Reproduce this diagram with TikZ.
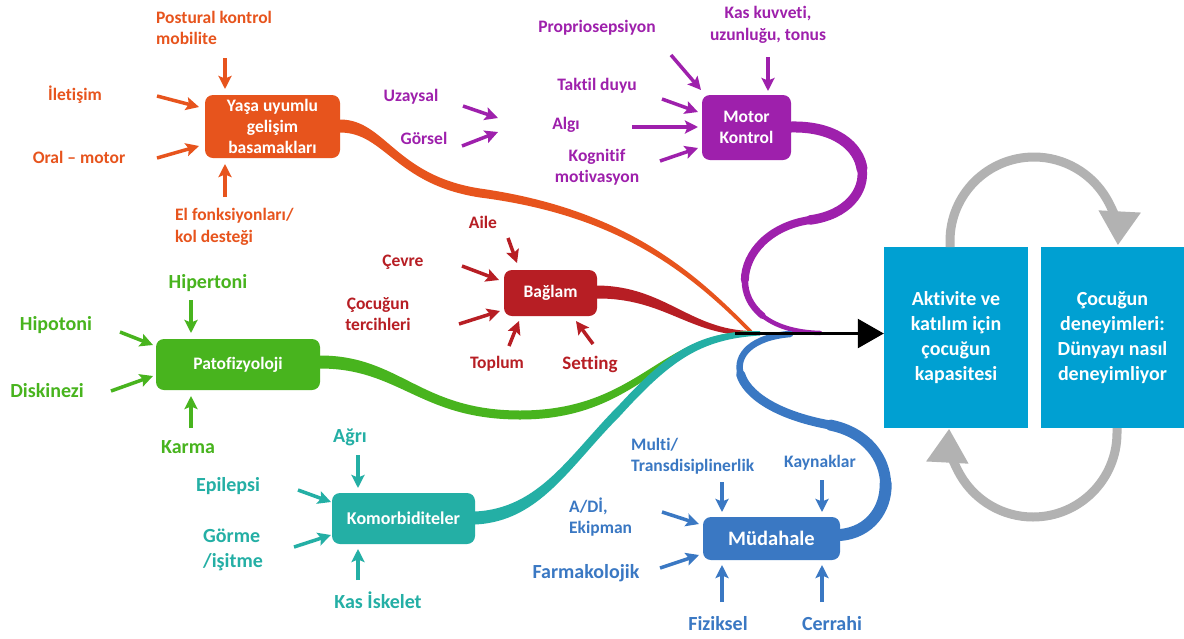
\documentclass[tikz,border=0pt]{standalone}
\usepackage{fontspec}
\setmainfont{Carlito}[Ligatures={NoCommon}]
\usetikzlibrary{arrows.meta,calc}
\definecolor{orC}{RGB}{231,84,29}
\definecolor{puC}{RGB}{158,32,172}
\definecolor{reC}{RGB}{183,30,36}
\definecolor{grC}{RGB}{72,180,30}
\definecolor{teC}{RGB}{36,175,165}
\definecolor{blC}{RGB}{58,120,195}
\definecolor{cyC}{RGB}{0,160,210}
\definecolor{gyC}{RGB}{178,178,178}
\begin{document}
\begin{tikzpicture}[x=1pt,y=-1pt,
  lab/.style={font=\bfseries\fontsize{17.5}{21.5}\selectfont, align=center, inner sep=0pt},
  labL/.style={font=\bfseries\fontsize{20}{25}\selectfont, align=center, inner sep=0pt},
  bx/.style={rounded corners=8pt, inner sep=0pt, text=white, align=center, font=\bfseries\fontsize{17.5}{21}\selectfont},
  bigbox/.style={inner sep=0pt, fill=cyC, text=white, align=center, minimum width=144pt, minimum height=181pt, font=\bfseries\fontsize{20}{25}\selectfont},
  fat/.style={line width=3.5pt, -{Stealth[length=13pt,width=13pt,inset=2.5pt]}},
  seg/.style={line cap=round},
  gyarrow/.style={gyC, line width=9pt, -{Triangle[length=34pt,width=40pt]}}
  ]
\fill[white] (0,0) rectangle (1184,638);
\useasboundingbox (0,0) rectangle (1184,638);

% ---------------- ribbons ----------------
% orange
\fill[orC] (340,119.5) .. controls (385,119.5) and (395,175.5) .. (480,188.5) .. controls (620,208.5) and (690,267) .. (752,330.5)
  -- (752,335.5) .. controls (690,273) and (620,215.5) .. (480,197.5) .. controls (395,184.5) and (385,132.5) .. (340,132.5) -- cycle;
% red
\fill[reC] (597,285.5) .. controls (665,286) and (690,330) .. (752,331)
  -- (752,335.5) .. controls (690,336) and (665,298) .. (597,298.5) -- cycle;
% green
\fill[grC] (320,355.5) .. controls (400,355.5) and (420,410.5) .. (520,410.5) .. controls (640,410.5) and (660,331) .. (755,331)
  -- (755,335.5) .. controls (660,339) and (640,419.5) .. (520,419.5) .. controls (420,419.5) and (400,368.5) .. (320,368.5) -- cycle;
% teal
\fill[teC] (475,511.5) .. controls (540,508.5) and (570,454) .. (620,404) .. controls (670,350) and (700,331) .. (760,331)
  -- (760,335.5) .. controls (700,339) and (670,361) .. (620,416) .. controls (570,466) and (540,521.5) .. (475,524.5) -- cycle;
% purple
\draw[puC, seg, line width=11pt] (791,127) .. controls (835.5,126) and (859,146.75) .. (862,169);
\draw[puC, seg, line width=9.5pt] (862,169) .. controls (865,191.25) and (847.5,215) .. (810,220);
\draw[puC, seg, line width=8pt] (810,220) .. controls (769,226) and (745.25,253.5) .. (744.875,279.875);
\draw[puC, seg, line width=6.5pt] (744.875,279.875) .. controls (744.69,293.06) and (750.34,305.97) .. (762.6,315.77);
\draw[puC, seg, line width=4.5pt] (762.6,315.77) .. controls (774.875,325.56) and (793.75,332.25) .. (820,333);
% blue
\draw[blC, seg, line width=12pt] (840,535) .. controls (870,532.5) and (886.25,508.75) .. (885.625,483.75);
\draw[blC, seg, line width=11pt] (885.625,483.75) .. controls (885,458.75) and (867.5,432.5) .. (830,425);
\draw[blC, seg, line width=9pt] (830,425) .. controls (775,415) and (746.25,393.75) .. (740.625,374.25);
\draw[blC, seg, line width=6.5pt] (740.625,374.25) .. controls (735,354.75) and (752.5,337) .. (790,334);

% ---------------- boxes ----------------
\node[bx, fill=orC, minimum width=135pt, minimum height=63pt] (yasa) at (272.5,126.5) {Yaşa uyumlu\\gelişim\\basamakları};
\node[bx, fill=puC, minimum width=89pt, minimum height=65pt] (motor) at (746.5,127.5) {Motor\\Kontrol};
\node[bx, fill=reC, minimum width=93pt, minimum height=46pt] (baglam) at (550.5,293) {Bağlam};
\node[bx, fill=grC, minimum width=164pt, minimum height=51pt] (pato) at (238,364.5) {Patofizyoloji};
\node[bx, fill=teC, minimum width=143pt, minimum height=51pt, font=\bfseries\fontsize{18}{21}\selectfont] (komor) at (403.5,518.5) {Komorbiditeler};
\node[bx, fill=blC, minimum width=137pt, minimum height=43pt, font=\bfseries\fontsize{20.5}{24}\selectfont] (mudahale) at (771.5,538.5) {Müdahale};
\node[bigbox] (akt) at (956,337.5) {Aktivite ve\\katılım için\\çocuğun\\kapasitesi};
\node[bigbox, minimum width=143pt] (deney) at (1112.5,337.5) {Çocuğun\\deneyimleri:\\Dünyayı nasıl\\deneyimliyor};

% ---------------- convergence arrow ----------------
\coordinate (conv) at (735,333.5);
\draw[line width=2.5pt, -{Triangle[length=26pt,width=29pt]}] (conv) -- (conv -| akt.west);

% ---------------- gray cycle arrows ----------------
\coordinate (ga1) at (950,247);
\coordinate (ga2) at (1117,428);
\draw[gyarrow] (ga1) -- ++(0,-6) arc[start angle=180, end angle=363, radius=84];
\draw[gyarrow] (ga2) -- ++(0,5) arc[start angle=0, end angle=183, radius=84];

% ---------------- orange labels ----------------
\node[lab, text=orC, anchor=west, align=left] (postural) at (156,28) {Postural kontrol\\mobilite};
\node[lab, text=orC] (iletisim) at (75,95) {İletişim};
\node[lab, text=orC] (oral) at (79,157) {Oral – motor};
\node[lab, text=orC, anchor=west, align=left] (elfonk) at (175,227) {El fonksiyonları/\\kol desteği};
\coordinate (o1s) at (225,58);  \coordinate (o1e) at (225,89);
\coordinate (o2s) at (157,96);  \coordinate (o2e) at (199,107);
\coordinate (o3s) at (157,158); \coordinate (o3e) at (199,146);
\coordinate (o4s) at (225,197); \coordinate (o4e) at (225,164);
\foreach \a in {o1,o2,o3,o4} \draw[fat, orC] (\a s) -- (\a e);

% ---------------- purple labels ----------------
\node[lab, text=puC] (proprio) at (597,28) {Propriosepsiyon};
\node[lab, text=puC] (kas) at (768,25) {Kas kuvveti,\\uzunluğu, tonus};
\node[lab, text=puC] (uzaysal) at (411,97) {Uzaysal};
\node[lab, text=puC] (gorsel) at (424,138) {Görsel};
\node[lab, text=puC] (taktil) at (597,86) {Taktil duyu};
\node[lab, text=puC] (algi) at (566,125) {Algı};
\node[lab, text=puC] (kognitif) at (597,167) {Kognitif\\motivasyon};
\coordinate (p1s) at (463,106); \coordinate (p1e) at (498,118);
\coordinate (p2s) at (462,146); \coordinate (p2e) at (498,132);
\coordinate (p3s) at (671,55);  \coordinate (p3e) at (701,90);
\coordinate (p4s) at (768,57);  \coordinate (p4e) at (768,91);
\coordinate (p5s) at (662,99);  \coordinate (p5e) at (698,112);
\coordinate (p6s) at (632,127); \coordinate (p6e) at (698,127);
\coordinate (p7s) at (660,161); \coordinate (p7e) at (698,148);
\foreach \a in {p1,p2,p3,p4,p5,p6,p7} \draw[fat, puC] (\a s) -- (\a e);

% ---------------- red labels ----------------
\node[lab, text=reC] (aile) at (483,222) {Aile};
\node[lab, text=reC] (cevre) at (403,262) {Çevre};
\node[lab, text=reC] (tercih) at (378,314) {Çocuğun\\tercihleri};
\node[lab, text=reC] (toplum) at (497,364) {Toplum};
\node[lab, text=reC, font=\bfseries\fontsize{19}{23}\selectfont] (setting) at (590,364) {Setting};
\coordinate (r1s) at (508,238); \coordinate (r1e) at (517,263);
\coordinate (r2s) at (462,266); \coordinate (r2e) at (499,280);
\coordinate (r3s) at (459,324); \coordinate (r3e) at (500,311);
\coordinate (r4s) at (509,346); \coordinate (r4e) at (519,321);
\coordinate (r5s) at (593,344); \coordinate (r5e) at (576,321);
\foreach \a in {r1,r2,r3,r4,r5} \draw[fat, reC] (\a s) -- (\a e);

% ---------------- green labels ----------------
\node[labL, text=grC] (hiper) at (208,283) {Hipertoni};
\node[labL, text=grC] (hipo) at (56,325) {Hipotoni};
\node[labL, text=grC] (disk) at (47,391) {Diskinezi};
\node[labL, text=grC] (karma) at (188,447) {Karma};
\coordinate (g1s) at (191,300); \coordinate (g1e) at (191,333);
\coordinate (g2s) at (120,332); \coordinate (g2e) at (153,345);
\coordinate (g3s) at (111,391); \coordinate (g3e) at (153,376);
\coordinate (g4s) at (191,428); \coordinate (g4e) at (191,396);
\foreach \a in {g1,g2,g3,g4} \draw[fat, grC] (\a s) -- (\a e);

% ---------------- teal labels ----------------
\node[labL, text=teC] (agri) at (350,437) {Ağrı};
\node[labL, text=teC] (epi) at (228,486) {Epilepsi};
\node[labL, text=teC, anchor=west, align=left] (gorme) at (203,550) {Görme\\/işitme};
\node[labL, text=teC] (iskelet) at (378,600) {Kas İskelet};
\coordinate (t1s) at (358,455); \coordinate (t1e) at (358,488);
\coordinate (t2s) at (298,490); \coordinate (t2e) at (331,502);
\coordinate (t3s) at (294,547); \coordinate (t3e) at (331,535);
\coordinate (t4s) at (358,580); \coordinate (t4e) at (358,549);
\foreach \a in {t1,t2,t3,t4} \draw[fat, teC] (\a s) -- (\a e);

% ---------------- blue labels ----------------
\node[lab, text=blC, anchor=west, align=left] (multi) at (631,456) {Multi/\\Transdisiplinerlik};
\node[lab, text=blC] (kaynak) at (820,463) {Kaynaklar};
\node[lab, text=blC, anchor=west, align=left] (adi) at (569,517) {A/Dİ,\\Ekipman};
\node[labL, text=blC] (farma) at (586,573) {Farmakolojik};
\node[labL, text=blC] (fizik) at (718,624) {Fiziksel};
\node[labL, text=blC] (cerrahi) at (832,624) {Cerrahi};
\coordinate (b1s) at (722,482); \coordinate (b1e) at (722,512);
\coordinate (b2s) at (822,480); \coordinate (b2e) at (822,512);
\coordinate (b3s) at (662,512); \coordinate (b3e) at (699,524);
\coordinate (b4s) at (660,568); \coordinate (b4e) at (699,555);
\coordinate (b5s) at (722,602); \coordinate (b5e) at (722,565);
\coordinate (b6s) at (822,602); \coordinate (b6e) at (822,565);
\foreach \a in {b1,b2,b3,b4,b5,b6} \draw[fat, blC] (\a s) -- (\a e);
\end{tikzpicture}
\end{document}
